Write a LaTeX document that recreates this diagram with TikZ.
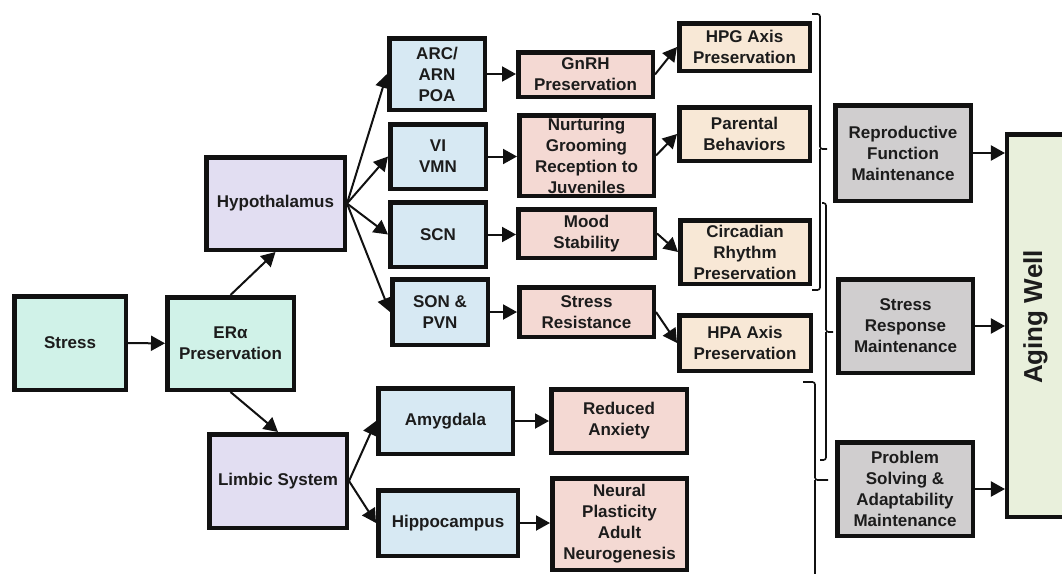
\documentclass[tikz,border=0pt]{standalone}
\usepackage{fontspec}
\setmainfont{Liberation Sans}
\usepackage{tikz}
\usetikzlibrary{arrows.meta,calc}
\definecolor{srcfill}{HTML}{D0F2E8}
\definecolor{regfill}{HTML}{E2DEF2}
\definecolor{nucfill}{HTML}{D7E9F3}
\definecolor{effill}{HTML}{F4D9D3}
\definecolor{resfill}{HTML}{F8E8D6}
\definecolor{mntfill}{HTML}{D0CECF}
\definecolor{endfill}{HTML}{E9F0DC}
\definecolor{boxline}{HTML}{111111}
\definecolor{txt}{HTML}{1C1C1C}

\begin{document}
\begin{tikzpicture}[
  x=1pt, y=-1pt,
  box/.style={draw=boxline, line width=4.5pt, align=center, inner sep=0pt, text=txt,
              font=\bfseries\fontsize{17}{21}\selectfont},
  src/.style={box, fill=srcfill},
  reg/.style={box, fill=regfill},
  nuc/.style={box, fill=nucfill},
  eff/.style={box, fill=effill},
  res/.style={box, fill=resfill},
  mnt/.style={box, fill=mntfill},
  fin/.style={box, fill=endfill, font=\bfseries\fontsize{26}{30}\selectfont},
  arr/.style={-{Triangle[length=14pt,width=15pt]}, line width=2pt, draw=boxline},
  brc/.style={line width=1.6pt, draw=boxline, rounded corners=2.5pt}
]
  \useasboundingbox (0,0) rectangle (1062,573);
  % Kolom 1: pemicu
  \node[src, minimum width=111.5, minimum height=93.5] (stress) at (70,343)    {Stress};
  \node[src, minimum width=126.5, minimum height=92.5] (era)    at (230.5,343.5) {ERα\\Preservation};
  % Kolom 2: region otak
  \node[reg, minimum width=138.5, minimum height=92.5] (hyp)  at (275.5,203.5) {Hypothalamus};
  \node[reg, minimum width=137.5, minimum height=93.5] (limb) at (278,481)     {Limbic System};
  % Kolom 3: nukleus
  \node[nuc, minimum width=95.5, minimum height=71.5] (arc) at (437,74)    {ARC/\\ARN\\POA};
  \node[nuc, minimum width=95.5, minimum height=64.5] (vmn) at (438,156.5) {VI\\VMN};
  \node[nuc, minimum width=95.5, minimum height=64.5] (scn) at (438,234.5) {SCN};
  \node[nuc, minimum width=95.5, minimum height=65.5] (son) at (440,312)   {SON \&\\PVN};
  \node[nuc, minimum width=134.5, minimum height=65.5] (amy) at (445.5,421) {Amygdala};
  \node[nuc, minimum width=139.5, minimum height=65.5] (hip) at (448,523)   {Hippocampus};
  % Kolom 4: efek
  \node[eff, minimum width=134.5, minimum height=44.5] (gnrh) at (585.5,74.5) {GnRH\\Preservation};
  \node[eff, minimum width=134.5, minimum height=80.5] (nurt) at (586.5,155.5) {Nurturing\\Grooming\\Reception to\\Juveniles};
  \node[eff, minimum width=136.5, minimum height=48.5] (mood) at (586.5,233.5) {Mood\\Stability};
  \node[eff, minimum width=134.5, minimum height=49.5] (sres) at (586.5,312)   {Stress\\Resistance};
  \node[eff, minimum width=135.5, minimum height=63.5] (ranx) at (619,421)     {Reduced\\Anxiety};
  \node[eff, minimum width=134.5, minimum height=91.5] (neur) at (619.5,524)   {Neural\\Plasticity\\Adult\\Neurogenesis};
  % Kolom 5: hasil
  \node[res, minimum width=130.5, minimum height=47.5] (hpg)  at (744.5,47) {HPG Axis\\Preservation};
  \node[res, minimum width=130.5, minimum height=53.5] (par)  at (744.5,134) {Parental\\Behaviors};
  \node[res, minimum width=129.5, minimum height=63.5] (circ) at (745,252)   {Circadian\\Rhythm\\Preservation};
  \node[res, minimum width=131.5, minimum height=55.5] (hpa)  at (745,343)   {HPA Axis\\Preservation};
  % Kolom 6: pemeliharaan
  \node[mnt, minimum width=135.5, minimum height=95.5] (repr)  at (903,153)   {Reproductive\\Function\\Maintenance};
  \node[mnt, minimum width=134.5, minimum height=93.5] (sresp) at (905.5,326) {Stress\\Response\\Maintenance};
  \node[mnt, minimum width=135.5, minimum height=93.5] (prob)  at (905,489)   {Problem\\Solving \&\\Adaptability\\Maintenance};
  % Akhir (tepi kanan terpotong)
  \node[fin, rotate=90, minimum width=382.5, minimum height=58.75] (aging) at (1036.6,325.5)
    {\hspace*{17pt}\raisebox{8pt}{Aging Well}};

  % Alur utama
  \draw[arr] (stress) -- (era);
  \draw[arr] (era.north) -- (hyp.south);
  \draw[arr] (era.south) -- (limb.north);
  \foreach \n in {arc,vmn,scn,son}
    \draw[arr] (hyp.east) -- (\n.west);
  \draw[arr] (limb.east) -- (amy.west);
  \draw[arr] (limb.east) -- (hip.west);
  \draw[arr] (arc) -- (arc -| gnrh.west);
  \draw[arr] (vmn) -- (vmn -| nurt.west);
  \draw[arr] (scn) -- (scn -| mood.west);
  \draw[arr] (son) -- (son -| sres.west);
  \draw[arr] (amy) -- (amy -| ranx.west);
  \draw[arr] (hip) -- (hip -| neur.west);
  \draw[arr] (gnrh.east) -- (hpg.west);
  \draw[arr] (nurt.east) -- (par.west);
  \draw[arr] (mood.east) -- (circ.west);
  \draw[arr] (sres.east) -- (hpa.west);
  \draw[arr] (repr) -- (repr -| aging.north);
  \draw[arr] (sresp) -- (sresp -| aging.north);
  \draw[arr] (prob) -- (prob -| aging.north);

  % Kurung kurawal
  \draw[brc] (812,14) -- (820,14) -- (820,149) -- (827,149);
  \draw[brc] (820,149) -- (820,290) -- (812,290);
  \draw[brc] (822,203) -- (826,203) -- (826,332) -- (833,332);
  \draw[brc] (826,332) -- (826,460) -- (820,460);
  \draw[brc] (803,382) -- (815,382) -- (815,480) -- (828,480);
  \draw[brc] (815,480) -- (815,590);
\end{tikzpicture}
\end{document}
